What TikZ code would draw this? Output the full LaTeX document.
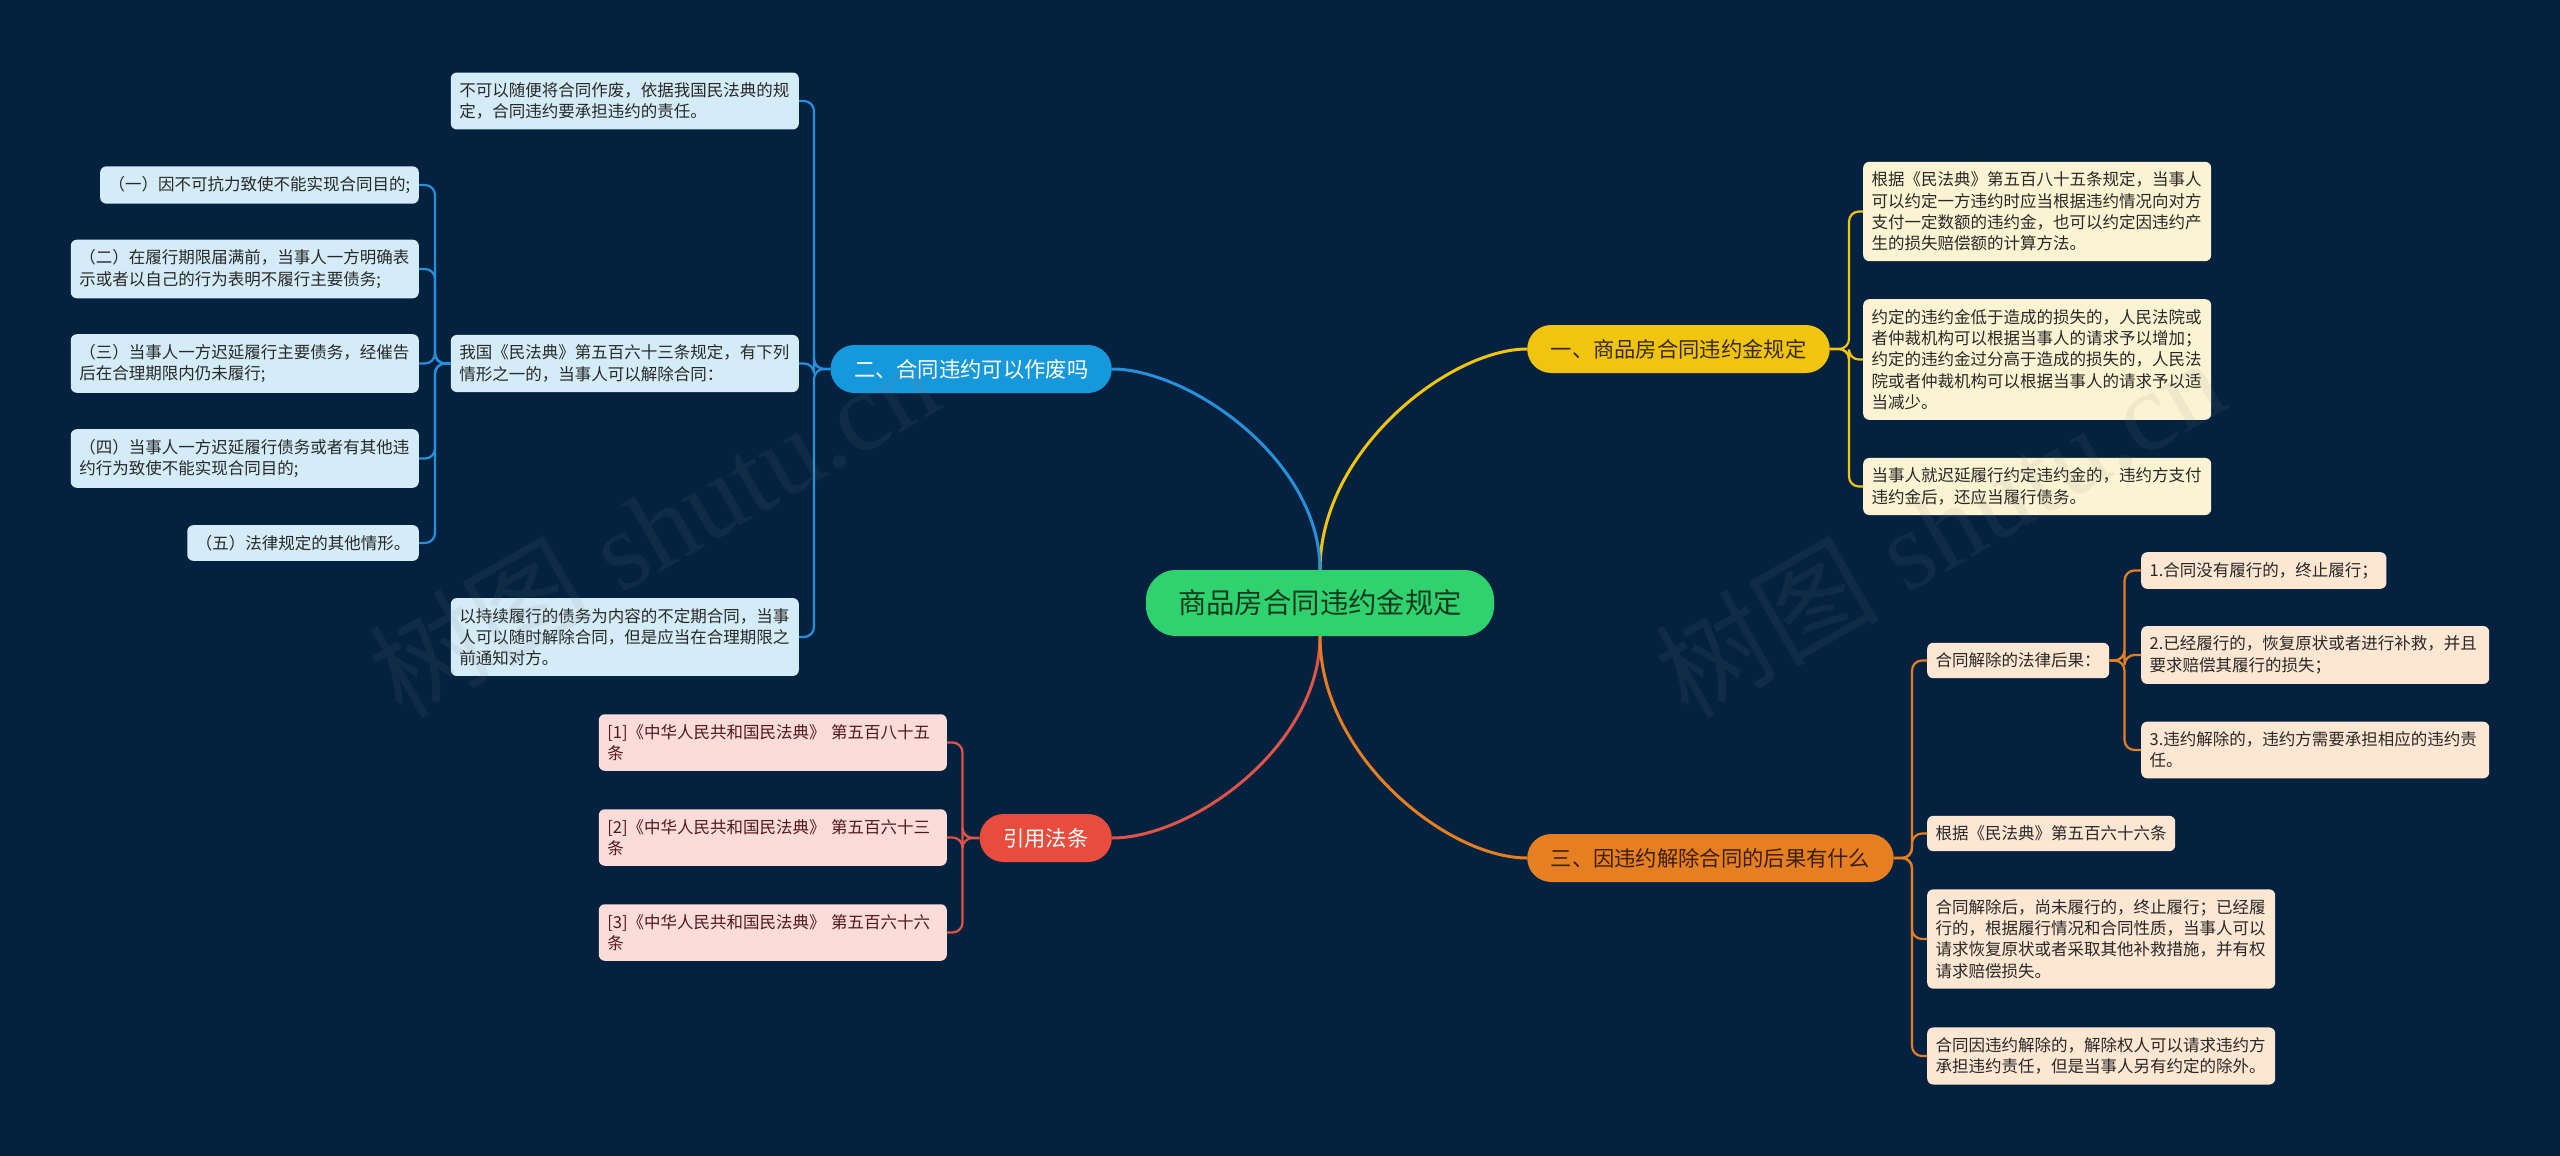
\documentclass[tikz,border=0pt]{standalone}
\usepackage{fontspec}
\setmainfont{Noto Sans CJK SC}
\newfontfamily\wmfont{Liberation Serif}
\definecolor{bgc}{RGB}{4,34,64}
\definecolor{cgreen}{RGB}{47,210,110}
\definecolor{cyellow}{RGB}{241,196,15}
\definecolor{cblue}{RGB}{22,152,220}
\definecolor{corange}{RGB}{230,126,34}
\definecolor{cred}{RGB}{231,76,60}
\definecolor{lblue}{RGB}{212,236,248}
\definecolor{lyellow}{RGB}{252,243,210}
\definecolor{lorange}{RGB}{253,230,210}
\definecolor{lred}{RGB}{252,220,217}
\definecolor{lnblue}{RGB}{38,145,218}
\definecolor{lnred}{RGB}{222,84,70}
\definecolor{txtdark}{RGB}{40,40,40}
\definecolor{txtctr}{RGB}{18,58,30}
\definecolor{txtyel}{RGB}{55,44,5}
\definecolor{txtora}{RGB}{60,32,5}
\definecolor{txtred}{RGB}{80,25,25}
\begin{document}
\begin{tikzpicture}[x=1pt,y=-1pt,
  leaf/.style={rounded corners=6pt, inner xsep=8.5pt, inner ysep=10pt,
    font=\fontsize{16.5pt}{21.3pt}\selectfont, align=left, text=txtdark},
  mleaf/.style={leaf, text width=331pt},
  bleaf/.style={fill=lblue},
  yleaf/.style={fill=lyellow},
  oleaf/.style={fill=lorange},
  rleaf/.style={fill=lred, text=txtred},
  branch/.style={rounded corners=24pt, inner xsep=23.5pt, inner ysep=0pt,
    minimum height=48pt, font=\fontsize{21.3pt}{25pt}\selectfont},
  blink/.style={draw=lnblue, line width=2.2pt, rounded corners=10pt},
  ylink/.style={draw=cyellow, line width=2.2pt, rounded corners=10pt},
  olink/.style={draw=corange, line width=2.2pt, rounded corners=10pt},
  rlink/.style={draw=lnred, line width=2.2pt, rounded corners=10pt},
  mainlink/.style={line width=3pt},
  wm/.style={rotate=30, text=gray, opacity=0.1, font=\wmfont\fontsize{112pt}{112pt}\selectfont}
]
\fill[bgc] (0,0) rectangle (2560,1156);

% centre
\node[fill=cgreen, rounded corners=30pt, inner xsep=32pt, inner ysep=0pt, minimum height=66pt,
  font=\fontsize{28.4pt}{32pt}\selectfont, text=txtctr] (ctr) at (1320,603) {商品房合同违约金规定};

% branches
\node[branch, fill=cyellow, text=txtyel, anchor=west] (b1) at (1527,349) {一、商品房合同违约金规定};
\node[branch, fill=cblue, text=white, anchor=east] (b2) at (1112,369) {二、合同违约可以作废吗};
\node[branch, fill=corange, text=txtora, anchor=west] (b3) at (1527,858) {三、因违约解除合同的后果有什么};
\node[branch, fill=cred, text=white, anchor=east] (b4) at (1112,838) {引用法条};

\draw[mainlink, cyellow] (ctr.north) .. controls +(0,-120) and +(-77,0) .. (b1.west);
\draw[mainlink, lnblue] (ctr.north) .. controls +(0,-110) and +(77,0) .. (b2.east);
\draw[mainlink, lnred] (ctr.south) .. controls +(0,110) and +(80,0) .. (b4.east);
\draw[mainlink, corange] (ctr.south) .. controls +(0,120) and +(-80,0) .. (b3.west);

% branch 1 leaves
\node[mleaf, yleaf, anchor=west] (y1) at (1863,211.5) {根据《民法典》第五百八十五条规定，当事人\\可以约定一方违约时应当根据违约情况向对方\\支付一定数额的违约金，也可以约定因违约产\\生的损失赔偿额的计算方法。};
\node[mleaf, yleaf, anchor=west] (y2) at (1863,359.5) {约定的违约金低于造成的损失的，人民法院或\\者仲裁机构可以根据当事人的请求予以增加；\\约定的违约金过分高于造成的损失的，人民法\\院或者仲裁机构可以根据当事人的请求予以适\\当减少。};
\node[mleaf, yleaf, anchor=west] (y3) at (1863,486.5) {当事人就迟延履行约定违约金的，违约方支付\\违约金后，还应当履行债务。};
\foreach \c in {y1,y2,y3} \draw[ylink] (b1.east) -- (1849,349) |- (\c.west);

% branch 2 leaves
\node[mleaf, bleaf, anchor=east] (l1) at (799,101) {不可以随便将合同作废，依据我国民法典的规\\定，合同违约要承担违约的责任。};
\node[mleaf, bleaf, anchor=east] (l2) at (799,363.5) {我国《民法典》第五百六十三条规定，有下列\\情形之一的，当事人可以解除合同：};
\node[mleaf, bleaf, anchor=east] (l3) at (799,637) {以持续履行的债务为内容的不定期合同，当事\\人可以随时解除合同，但是应当在合理期限之\\前通知对方。};
\foreach \c in {l1,l2,l3} \draw[blink] (b2.west) -- (814,369) |- (\c.east);

\node[leaf, bleaf, anchor=east] (k1) at (419,185) {（一）因不可抗力致使不能实现合同目的;};
\node[mleaf, bleaf, anchor=east] (k2) at (419,269) {（二）在履行期限届满前，当事人一方明确表\\示或者以自己的行为表明不履行主要债务;};
\node[mleaf, bleaf, anchor=east] (k3) at (419,363.5) {（三）当事人一方迟延履行主要债务，经催告\\后在合理期限内仍未履行;};
\node[mleaf, bleaf, anchor=east] (k4) at (419,458.5) {（四）当事人一方迟延履行债务或者有其他违\\约行为致使不能实现合同目的;};
\node[leaf, bleaf, anchor=east] (k5) at (419,543) {（五）法律规定的其他情形。};
\foreach \c in {k1,k2,k3,k4,k5} \draw[blink] (l2.west) -- (435,363.5) |- (\c.east);

% branch 3 leaves
\node[leaf, oleaf, anchor=west] (o1) at (1927,660.5) {合同解除的法律后果：};
\node[leaf, oleaf, anchor=west] (o2) at (1927,833.5) {根据《民法典》第五百六十六条};
\node[mleaf, oleaf, anchor=west] (o3) at (1927,939) {合同解除后，尚未履行的，终止履行；已经履\\行的，根据履行情况和合同性质，当事人可以\\请求恢复原状或者采取其他补救措施，并有权\\请求赔偿损失。};
\node[mleaf, oleaf, anchor=west] (o4) at (1927,1056) {合同因违约解除的，解除权人可以请求违约方\\承担违约责任，但是当事人另有约定的除外。};
\foreach \c in {o1,o2,o3,o4} \draw[olink] (b3.east) -- (1912,858) |- (\c.west);

\node[leaf, oleaf, anchor=west] (p1) at (2141,570.5) {1.合同没有履行的，终止履行；};
\node[mleaf, oleaf, anchor=west] (p2) at (2141,655) {2.已经履行的，恢复原状或者进行补救，并且\\要求赔偿其履行的损失；};
\node[mleaf, oleaf, anchor=west] (p3) at (2141,750) {3.违约解除的，违约方需要承担相应的违约责\\任。};
\foreach \c in {p1,p2,p3} \draw[olink] (o1.east) -- (2124.5,660.5) |- (\c.west);

% branch 4 leaves
\node[mleaf, rleaf, anchor=east] (r1) at (947,742.5) {[1]《中华人民共和国民法典》 第五百八十五\\条};
\node[mleaf, rleaf, anchor=east] (r2) at (947,837.5) {[2]《中华人民共和国民法典》 第五百六十三\\条};
\node[mleaf, rleaf, anchor=east] (r3) at (947,932.5) {[3]《中华人民共和国民法典》 第五百六十六\\条};
\foreach \c in {r1,r2,r3} \draw[rlink] (b4.west) -- (962.5,838) |- (\c.east);

% watermarks
\node[wm] (wm1) at (653,527) {{\fontspec{Noto Sans CJK SC}树图} shutu.cn};
\node[wm] (wm2) at (1939,527) {{\fontspec{Noto Sans CJK SC}树图} shutu.cn};
\end{tikzpicture}
\end{document}
